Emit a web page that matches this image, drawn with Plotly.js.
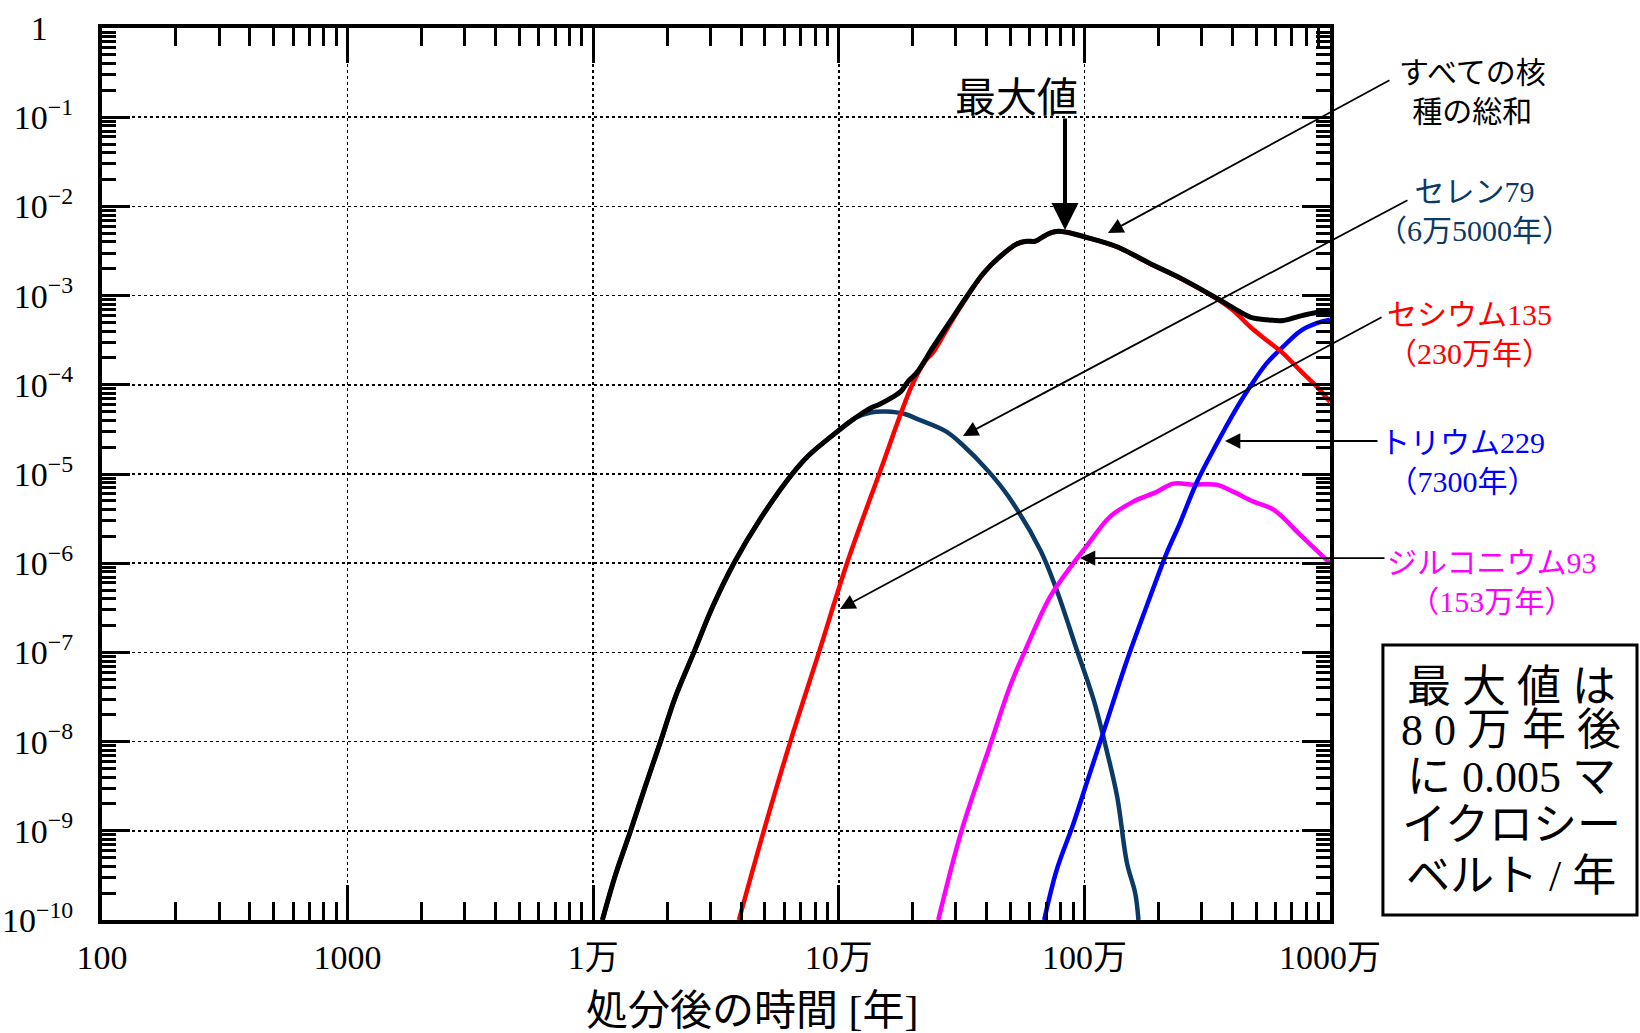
<!DOCTYPE html>
<html>
<head>
<meta charset="utf-8">
<script src="https://cdn.plot.ly/plotly-3.0.1.min.js"></script>
<style>html,body{margin:0;padding:0;background:#fff;}#chart{width:1640px;height:1033px;}</style>
</head>
<body>
<div id="chart"></div>
<script>
// ---- data (years after disposal, dose in μSv/year) ----
const totalYears = [1.09e4, 1.23e4, 1.42e4, 1.63e4, 1.88e4, 2.16e4, 2.57e4, 3.05e4, 3.74e4, 4.80e4, 6.46e4, 7.55e4, 9.40e4, 1.17e5, 1.35e5, 1.46e5, 1.65e5, 1.78e5, 1.93e5, 2.07e5, 2.43e5, 2.84e5, 3.32e5, 3.88e5, 4.54e5, 5.30e5, 5.82e5, 6.30e5, 6.70e5, 7.24e5, 7.83e5, 8.47e5, 1.0e6, 1.35e6, 1.85e6, 2.53e6, 3.46e6, 4.05e6, 4.73e6, 5.52e6, 6.46e6, 7.55e6, 8.83e6, 1.0e7];
const totalDose = [1e-10, 3.16e-10, 1e-9, 3.16e-9, 1e-8, 3.16e-8, 1e-7, 3.16e-7, 1e-6, 3.16e-6, 1e-5, 1.62e-5, 2.69e-5, 4.27e-5, 5.50e-5, 6.03e-5, 7.24e-5, 8.32e-5, 1.12e-4, 1.35e-4, 2.69e-4, 5.13e-4, 9.77e-4, 1.78e-3, 2.75e-3, 3.80e-3, 4.07e-3, 4.07e-3, 4.47e-3, 5.01e-3, 5.25e-3, 5.13e-3, 4.57e-3, 3.55e-3, 2.29e-3, 1.51e-3, 9.33e-4, 7.24e-4, 5.75e-4, 5.37e-4, 5.25e-4, 5.89e-4, 6.46e-4, 6.61e-4];

const csYears = [3.92e4, 4.95e4, 6.35e4, 8.30e4, 1.08e5, 1.46e5, 1.99e5, 2.24e5, 2.43e5, 2.84e5, 3.32e5, 3.88e5, 4.54e5, 5.30e5, 5.82e5, 6.30e5, 6.70e5, 7.24e5, 7.83e5, 8.47e5, 1.0e6, 1.35e6, 1.85e6, 2.53e6, 3.46e6, 4.05e6, 4.73e6, 5.52e6, 6.46e6, 7.55e6, 8.83e6, 1.0e7];
const csDose = [1e-10, 1e-9, 1e-8, 1e-7, 1e-6, 1e-5, 1e-4, 1.82e-4, 2.34e-4, 4.84e-4, 9.60e-4, 1.77e-3, 2.74e-3, 3.79e-3, 4.06e-3, 4.06e-3, 4.46e-3, 5.00e-3, 5.24e-3, 5.12e-3, 4.56e-3, 3.54e-3, 2.28e-3, 1.50e-3, 9.20e-4, 6.76e-4, 4.47e-4, 3.16e-4, 2.24e-4, 1.45e-4, 9.55e-5, 6.46e-5];

const seYears = [1.09e4, 1.23e4, 1.42e4, 1.63e4, 1.88e4, 2.16e4, 2.57e4, 3.05e4, 3.74e4, 4.80e4, 6.46e4, 7.55e4, 9.40e4, 1.17e5, 1.35e5, 1.55e5, 1.87e5, 2.07e5, 2.72e5, 3.18e5, 4.07e5, 4.90e5, 6.61e5, 7.71e5, 9.31e5, 1.09e6, 1.23e6, 1.36e6, 1.49e6, 1.61e6, 1.66e6];
const seDose = [1e-10, 3.16e-10, 1e-9, 3.16e-9, 1e-8, 3.16e-8, 1e-7, 3.16e-7, 1e-6, 3.16e-6, 1e-5, 1.62e-5, 2.69e-5, 4.27e-5, 4.90e-5, 5.01e-5, 4.68e-5, 4.17e-5, 3.02e-5, 2.14e-5, 1.07e-5, 5.62e-6, 1.41e-6, 5.01e-7, 1.07e-7, 2.95e-8, 8.13e-9, 2.40e-9, 4.37e-10, 2.0e-10, 1e-10];

const zrYears = [2.54e5, 3.16e5, 4.13e5, 4.98e5, 5.82e5, 7.24e5, 9.02e5, 1.02e6, 1.27e6, 1.58e6, 1.97e6, 2.30e6, 2.78e6, 3.46e6, 4.05e6, 4.88e6, 5.89e6, 7.55e6, 1.0e7];
const zrDose = [1e-10, 1e-9, 9.1e-9, 4.17e-8, 1.15e-7, 4.17e-7, 1e-6, 1.55e-6, 3.31e-6, 4.90e-6, 6.31e-6, 7.80e-6, 7.60e-6, 7.59e-6, 6.31e-6, 4.90e-6, 3.98e-6, 2.09e-6, 1e-6];

const thYears = [6.86e5, 7.71e5, 9.02e5, 1.02e6, 1.19e6, 1.49e6, 1.85e6, 2.16e6, 2.45e6, 2.86e6, 3.46e6, 4.05e6, 4.73e6, 5.52e6, 6.46e6, 7.55e6, 8.83e6, 1.0e7];
const thDose = [1e-10, 3.63e-10, 1.20e-9, 3.39e-9, 1.23e-8, 8.13e-8, 4.17e-7, 1.29e-6, 2.82e-6, 7.94e-6, 2.19e-5, 4.79e-5, 9.55e-5, 1.74e-4, 2.69e-4, 3.98e-4, 4.90e-4, 5.37e-4];

// ---- tick labels ----
const xTickVals = [1e2, 1e3, 1e4, 1e5, 1e6, 1e7];
const xTickText = ['100', '1000', '1万', '10万', '100万', '1000万'];
const yTickVals = [1, 1e-1, 1e-2, 1e-3, 1e-4, 1e-5, 1e-6, 1e-7, 1e-8, 1e-9, 1e-10];
const yTickText = ['1\u00a0\u00a0\u00a0', '10<sup>−1</sup>', '10<sup>−2</sup>', '10<sup>−3</sup>', '10<sup>−4</sup>', '10<sup>−5</sup>', '10<sup>−6</sup>', '10<sup>−7</sup>', '10<sup>−8</sup>', '10<sup>−9</sup>', '10<sup>−10</sup>'];

// ---- texts ----
const xTitle = '処分後の時間 [年]';
const labelTotal = 'すべての核<br>種の総和';
const labelSe = 'セレン79<br>（6万5000年）';
const labelCs = 'セシウム135<br>（230万年）';
const labelTh = 'トリウム229<br>（7300年）';
const labelZr = 'ジルコニウム93<br>（153万年）';
const labelMax = '最大値';
const boxLines = ['最 大 値 は', '8 0 万 年 後', 'に 0.005 マ', 'イクロシー', 'ベルト / 年'];

function minorVals(lo, hi) {
  const v = [];
  for (let e = lo; e < hi; e++) for (let d = 2; d <= 9; d++) v.push(d * Math.pow(10, e));
  return v;
}

const FONT = 'Liberation Serif, "Noto Sans CJK JP", serif';
const CJK = '"Noto Sans CJK JP", sans-serif';
const NAVY = '#0c3a66';

const lw = 4.5;
const traces = [
  {x: seYears, y: seDose, name: 'セレン79', line: {color: NAVY, width: lw}},
  {x: zrYears, y: zrDose, name: 'ジルコニウム93', line: {color: '#ff00ff', width: lw}},
  {x: thYears, y: thDose, name: 'トリウム229', line: {color: '#0000ff', width: lw}},
  {x: csYears, y: csDose, name: 'セシウム135', line: {color: '#ff0000', width: lw}},
  {x: totalYears, y: totalDose, name: 'すべての核種の総和', line: {color: '#000000', width: 5}}
].map(t => Object.assign({type: 'scatter', mode: 'lines', hoverinfo: 'skip'}, t, {line: Object.assign({shape: 'spline', smoothing: 1}, t.line)}));

function arrow(x, y, ax, ay, w, s) {
  return {xref: 'paper', yref: 'paper', x: x, y: y, ax: ax, ay: ay, text: '', showarrow: true,
          font: {size: 1}, borderpad: 0,
          arrowhead: 2, arrowwidth: w, arrowsize: s, arrowcolor: '#000', standoff: 0, startstandoff: 0};
}
function label(x, y, text, color, size, fam) {
  return {xref: 'paper', yref: 'paper', x: x, y: y, text: text, showarrow: false,
          xanchor: 'center', yanchor: 'middle', align: 'center',
          font: {family: fam || FONT, size: size, color: color}};
}

const annotations = [
  arrow(0.8192, 0.7702, 282, -153, 1.8, 1.7),
  arrow(0.7011, 0.5426, 445, -236, 1.8, 1.7),
  arrow(0.6010, 0.3487, 542, -292, 1.8, 1.7),
  arrow(0.9145, 0.5370, 153, 0, 1.8, 1.7),
  arrow(0.7964, 0.4058, 305, 0, 1.8, 1.7),
  arrow(0.7842, 0.7735, 0, -112, 4, 1.35),
  label(1.116, 0.9305, labelTotal, '#000', 30, CJK),
  label(1.1173, 0.7949, labelSe, NAVY, 30),
  label(1.114, 0.657, labelCs, '#ff0000', 30),
  label(1.1075, 0.5135, labelTh, '#0000ff', 30),
  label(1.1319, 0.3789, labelZr, '#ff00ff', 30),
  label(0.7443, 0.926, labelMax, '#000', 41, CJK),
  label(0.5293, -0.102, xTitle, '#000', 42)
];
const boxY = [0.2601, 0.2119, 0.1603, 0.1054, 0.0493];
boxLines.forEach((t, i) => annotations.push(label(1.1474, boxY[i], t, '#000', 44)));

const axisCommon = {
  type: 'log', showline: true, linewidth: 4, linecolor: '#000', mirror: 'allticks',
  ticks: 'inside', tickwidth: 3, tickcolor: '#000',
  showgrid: true, gridcolor: '#000', gridwidth: 1.5, griddash: 'dot',
  zeroline: false, tickmode: 'array',
  tickfont: {family: FONT, size: 34, color: '#000'}
};

const layout = {
  width: 1640, height: 1033,
  margin: {l: 102, r: 310, t: 28, b: 113, pad: 0},
  paper_bgcolor: '#fff', plot_bgcolor: '#fff',
  showlegend: false,
  xaxis: Object.assign({}, axisCommon, {
    range: [2, 7], tickvals: xTickVals, ticktext: xTickText, ticklen: 35, ticklabelstandoff: 4,
    minor: {tickmode: 'array', tickvals: minorVals(2, 7), ticks: 'inside', ticklen: 18, tickwidth: 3, tickcolor: '#000', showgrid: false}
  }),
  yaxis: Object.assign({}, axisCommon, {
    range: [-10, 0], tickvals: yTickVals, ticktext: yTickText, ticklen: 28, ticklabelstandoff: 18,
    minor: {tickmode: 'array', tickvals: minorVals(-10, 0), ticks: 'inside', ticklen: 14, tickwidth: 3, tickcolor: '#000', showgrid: false}
  }),
  shapes: [
    {type: 'rect', xref: 'paper', yref: 'paper', x0: 1.0431, x1: 1.2500, y0: 0.0056, y1: 0.3083,
     line: {color: '#000', width: 3}, fillcolor: 'rgba(0,0,0,0)'}
  ],
  annotations: annotations
};

Plotly.newPlot('chart', traces, layout, {displayModeBar: false, staticPlot: true});
</script>
</body>
</html>
